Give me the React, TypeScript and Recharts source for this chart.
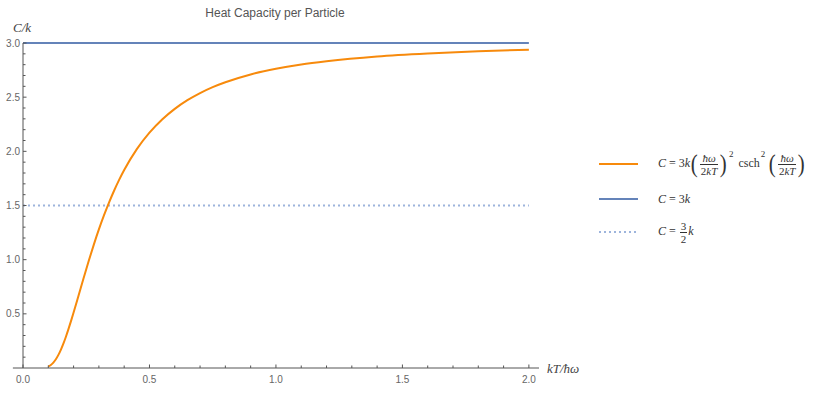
import { LineChart, Line, XAxis, YAxis, ReferenceLine } from "recharts";

// kT/ħω sample points and C/k
const temps = [
  0, 0.1, 0.11, 0.12, 0.13, 0.14, 0.15, 0.16, 0.17, 0.18, 0.19, 0.2, 0.22, 0.24, 0.26, 0.28,
  0.3, 0.32, 0.34, 0.36, 0.38, 0.4, 0.45, 0.5, 0.55, 0.6, 0.65, 0.7, 0.75, 0.8, 0.9, 1.0,
  1.1, 1.2, 1.4, 1.6, 1.8, 2.0,
];
const heatCap = [
  null, 0.014, 0.028, 0.05, 0.081, 0.121, 0.17, 0.227, 0.291, 0.361, 0.435, 0.512, 0.672,
  0.833, 0.99, 1.139, 1.279, 1.408, 1.527, 1.636, 1.736, 1.827, 2.02, 2.172, 2.294, 2.392,
  2.472, 2.538, 2.593, 2.638, 2.71, 2.762, 2.802, 2.832, 2.876, 2.904, 2.924, 2.938,
];
const classicalLimit = 3;
const halfLimit = 1.5;

const xTicks = [
  0, 0.1, 0.2, 0.3, 0.4, 0.5, 0.6, 0.7, 0.8, 0.9, 1.0, 1.1, 1.2, 1.3, 1.4, 1.5, 1.6, 1.7, 1.8,
  1.9, 2.0,
];
const yTicks = [
  0.1, 0.2, 0.3, 0.4, 0.5, 0.6, 0.7, 0.8, 0.9, 1.0, 1.1, 1.2, 1.3, 1.4, 1.5, 1.6, 1.7, 1.8, 1.9,
  2.0, 2.1, 2.2, 2.3, 2.4, 2.5, 2.6, 2.7, 2.8, 2.9, 3.0,
];

const ORANGE = "#f78a0c";
const BLUE = "#6483b9";
const LIGHT = "#9db4dc";
const AXIS = "#555";

const data = temps.map((t, i) => ({
  t,
  c: heatCap[i],
  full: classicalLimit,
  half: halfLimit,
}));

const isMajor = (v: number) => Math.abs(v * 2 - Math.round(v * 2)) < 1e-6;

const XTick = (props: any) => {
  const { x, y, payload } = props;
  const v = payload.value as number;
  const major = isMajor(v);
  return (
    <g>
      <line x1={x} x2={x} y1={y} y2={y - (major ? 3.5 : 2.5)} stroke={AXIS} strokeWidth={1} />
      {major && (
        <text x={x} y={y + 15} textAnchor="middle" fontSize={10} fill="#666" fontFamily="Liberation Sans, Arial">
          {v.toFixed(1)}
        </text>
      )}
    </g>
  );
};

const YTick = (props: any) => {
  const { x, y, payload } = props;
  const v = payload.value as number;
  const major = isMajor(v);
  return (
    <g>
      <line x1={x} x2={x + (major ? 3.5 : 2.5)} y1={y} y2={y} stroke={AXIS} strokeWidth={1} />
      {major && (
        <text x={x - 3} y={y + 3.5} textAnchor="end" fontSize={10} fill="#666" fontFamily="Liberation Sans, Arial">
          {v.toFixed(1)}
        </text>
      )}
    </g>
  );
};

const serif = "'Liberation Serif', 'Times New Roman', serif";

const Frac = ({ num, den }: { num: React.ReactNode; den: React.ReactNode }) => (
  <span
    style={{
      display: "inline-flex",
      flexDirection: "column",
      alignItems: "center",
      verticalAlign: "middle",
      fontSize: 11,
      lineHeight: "12px",
      margin: "0 1px",
    }}
  >
    <span style={{ padding: "0 1px" }}>{num}</span>
    <span style={{ borderTop: "1px solid #333", padding: "0 1px" }}>{den}</span>
  </span>
);

const Paren = ({ c }: { c: string }) => (
  <span
    style={{
      fontSize: 26,
      verticalAlign: "middle",
      lineHeight: "26px",
      display: "inline-block",
      transform: "scaleX(0.8)",
    }}
  >
    {c}
  </span>
);

const Sup = ({ c }: { c: string }) => (
  <span style={{ fontSize: 9, position: "relative", top: -10, marginLeft: 1 }}>{c}</span>
);

const I = ({ c }: { c: string }) => <span style={{ fontStyle: "italic" }}>{c}</span>;

const hw = <I c="ħω" />;
const twoKT = (
  <>
    2<I c="kT" />
  </>
);

const legendItems = [
  {
    key: "c",
    color: ORANGE,
    dash: undefined as string | undefined,
    label: (
      <>
        <I c="C" /> = 3<I c="k" />
        <Paren c="(" />
        <Frac num={hw} den={twoKT} />
        <Paren c=")" />
        <Sup c="2" />
        <span style={{ marginLeft: 5 }}>csch</span>
        <Sup c="2" />
        <span style={{ marginLeft: 3 }} />
        <Paren c="(" />
        <Frac num={hw} den={twoKT} />
        <Paren c=")" />
      </>
    ),
    y: 164,
  },
  {
    key: "full",
    color: BLUE,
    dash: undefined as string | undefined,
    label: (
      <>
        <I c="C" /> = 3<I c="k" />
      </>
    ),
    y: 199,
  },
  {
    key: "half",
    color: LIGHT,
    dash: "2 3",
    label: (
      <>
        <I c="C" /> = <Frac num="3" den="2" />
        <I c="k" />
      </>
    ),
    y: 232,
  },
];

export default function App() {
  return (
    <div style={{ position: "absolute", left: 0, top: 0, width: 816, height: 418, background: "#fff" }}>
      <LineChart width={816} height={418} data={data} margin={{ top: 43, right: 277, bottom: 30, left: 0 }}>
        <XAxis
          type="number"
          dataKey="t"
          domain={[0, 2.04]}
          ticks={xTicks}
          tick={<XTick />}
          tickLine={false}
          tickSize={0}
          tickMargin={0}
          height={20}
          interval={0}
          axisLine={{ stroke: AXIS }}
        />
        <YAxis
          type="number"
          domain={[0, 3]}
          ticks={yTicks}
          tick={<YTick />}
          tickLine={false}
          tickSize={0}
          tickMargin={0}
          width={23}
          interval={0}
          axisLine={{ stroke: AXIS }}
        />
        <ReferenceLine
          segment={[
            { x: -0.04, y: 0 },
            { x: 0, y: 0 },
          ]}
          ifOverflow="visible"
          stroke={AXIS}
        />
        <Line
          dataKey="half"
          stroke={LIGHT}
          strokeWidth={2}
          strokeDasharray="2 3"
          dot={false}
          type="linear"
          isAnimationActive={false}
        />
        <Line dataKey="full" stroke={BLUE} strokeWidth={2} dot={false} type="linear" isAnimationActive={false} />
        <Line dataKey="c" stroke={ORANGE} strokeWidth={2} dot={false} type="monotone" isAnimationActive={false} />
      </LineChart>

      <div
        style={{
          position: "absolute",
          left: 0,
          width: 550,
          top: 6,
          textAlign: "center",
          fontFamily: "'Liberation Sans', Arial, sans-serif",
          fontSize: 12,
          color: "#555",
        }}
      >
        Heat Capacity per Particle
      </div>
      <div style={{ position: "absolute", left: 13, top: 20, fontFamily: serif, fontStyle: "italic", fontSize: 13, color: "#444" }}>
        C/k
      </div>
      <div style={{ position: "absolute", left: 547, top: 361, fontFamily: serif, fontStyle: "italic", fontSize: 13, color: "#444" }}>
        kT/ħω
      </div>

      {legendItems.map((item) => (
        <div
          key={item.key}
          style={{
            position: "absolute",
            left: 599,
            top: item.y - 20,
            height: 40,
            display: "flex",
            alignItems: "center",
            fontFamily: serif,
            fontSize: 12,
            color: "#333",
            whiteSpace: "nowrap",
          }}
        >
          <svg width={39} height={4} style={{ marginRight: 20 }}>
            <line x1={0} x2={39} y1={2} y2={2} stroke={item.color} strokeWidth={2} strokeDasharray={item.dash} />
          </svg>
          <span>{item.label}</span>
        </div>
      ))}
    </div>
  );
}
